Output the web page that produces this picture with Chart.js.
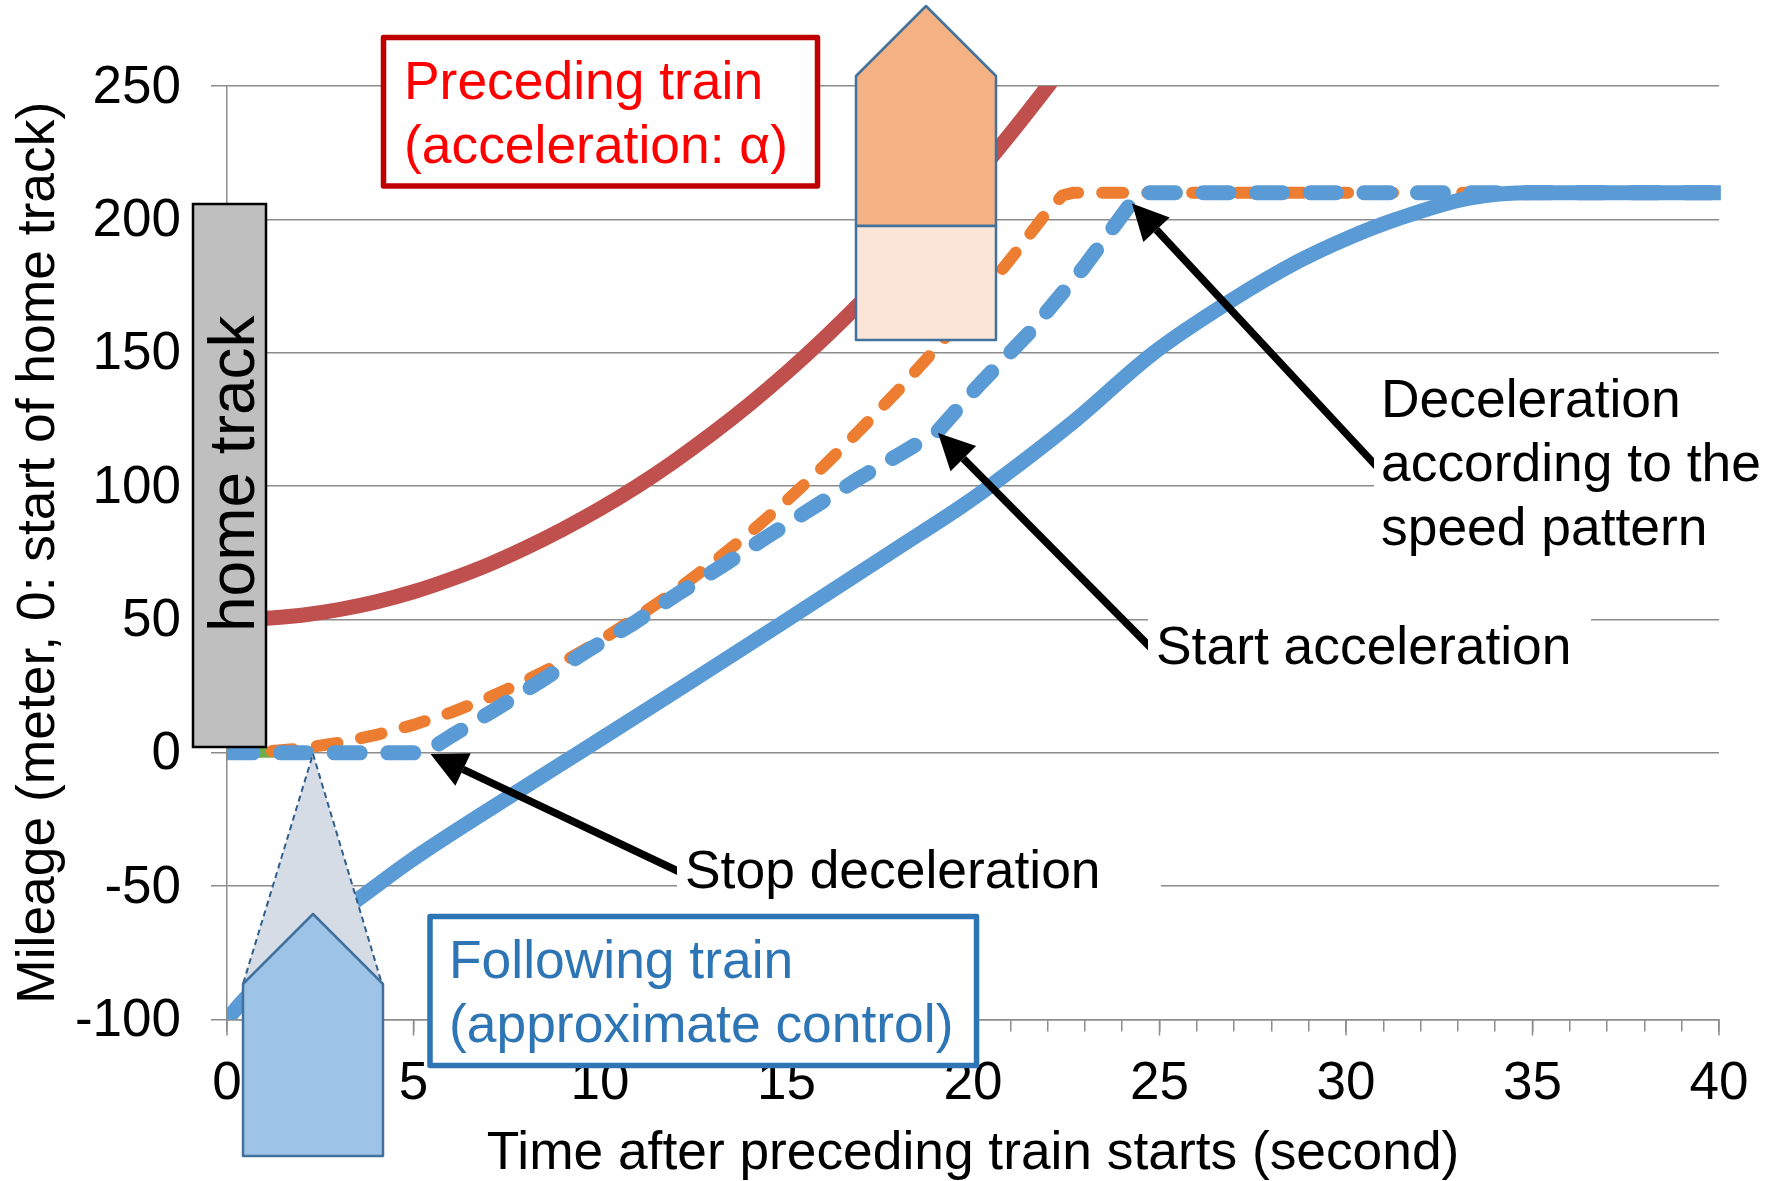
<!DOCTYPE html>
<html>
<head>
<meta charset="utf-8">
<title>Train mileage chart</title>
<script src="https://cdn.jsdelivr.net/npm/chart.js@4/dist/chart.umd.js"></script>
<style>
  html, body { margin: 0; padding: 0; background: #fff; }
  canvas { display: block; }
</style>
</head>
<body>
<canvas id="myChart" width="1778" height="1181"></canvas>
<script>
// values
const xTickLabels = [0, 5, 10, 15, 20, 25, 30, 35, 40];

const precedingTime = [0, 1, 2, 3, 4, 5, 6, 7, 8, 9, 10, 11, 12, 13, 14, 15, 16, 17, 18, 19, 20, 21, 22, 23];
const precedingMileage = [50, 50.4, 51.6, 53.7, 56.6, 60.4, 65.1, 70.5, 76.8, 83.8, 91.5, 100, 109.4, 119.6, 130.6, 142.5, 155.3, 169, 183.5, 198.8, 215, 232, 249.8, 268];

const patternTime = [0, 1, 2, 3, 4, 5, 6, 7, 8, 9, 10, 11, 12, 13, 14, 15, 16, 17, 18, 19, 20, 21, 22, 22.4, 22.7, 30, 40];
const patternMileage = [0, 0.4, 1.7, 3.8, 6.7, 10.5, 15.1, 20.6, 27, 34, 42, 51, 60.5, 71, 82.3, 94.5, 107.5, 121.5, 136, 151.5, 168, 185, 203, 209, 210, 210, 210];

const greenTime = [0, 2.3];
const greenMileage = [0, 0];

const targetTime = [0, 5.3, 6.03, 7.22, 8.42, 9.67, 10.9, 12.1, 13.3, 14.5, 15.74, 16.94, 18.14, 19.05, 20.1, 21.5, 22.96, 24.27, 24.5, 30, 40];
const targetMileage = [0, 0, 6.5, 16.5, 27, 38.4, 48.6, 59.7, 70.3, 81.2, 92.2, 102.9, 112.8, 120.5, 137, 157.4, 181.8, 206.7, 210, 210, 210];

const followingTime = [0, 0.43, 1, 2, 3, 3.5, 4.93, 7.7, 9.43, 12.2, 15.03, 18, 19.65, 20.43, 22.64, 24.85, 26.8, 28.74, 30.05, 31.34, 33.3, 35, 38, 40.05];
const followingMileage = [-100, -93, -85, -71, -60, -55, -40.4, -15.3, 0, 24.6, 50, 77, 92, 99.7, 123.5, 150, 168.5, 184.4, 193, 200, 208, 210, 210, 210];

const fontFamily = '"Liberation Sans", Arial, sans-serif';
const axisColor = "#8c8c8c";

function points(times, miles) {
  return times.map((t, i) => ({ x: t, y: miles[i] }));
}

function drawArrow(ctx, x1, y1, x2, y2) {
  const angle = Math.atan2(y2 - y1, x2 - x1);
  const headLen = 36;
  const headWide = 18;
  const baseX = x2 - headLen * Math.cos(angle);
  const baseY = y2 - headLen * Math.sin(angle);
  ctx.strokeStyle = "#000";
  ctx.fillStyle = "#000";
  ctx.lineWidth = 7.5;
  ctx.beginPath();
  ctx.moveTo(x1, y1);
  ctx.lineTo(baseX, baseY);
  ctx.stroke();
  ctx.beginPath();
  ctx.moveTo(x2, y2);
  ctx.lineTo(baseX - headWide * Math.sin(angle), baseY + headWide * Math.cos(angle));
  ctx.lineTo(baseX + headWide * Math.sin(angle), baseY - headWide * Math.cos(angle));
  ctx.closePath();
  ctx.fill();
}

function poly(ctx, pts, fill, stroke, width) {
  ctx.beginPath();
  pts.forEach((p, i) => (i ? ctx.lineTo(p[0], p[1]) : ctx.moveTo(p[0], p[1])));
  ctx.closePath();
  if (fill) {
    ctx.fillStyle = fill;
    ctx.fill();
  }
  if (stroke) {
    ctx.strokeStyle = stroke;
    ctx.lineWidth = width;
    ctx.stroke();
  }
}

function textBox(ctx, x, y, w, h, color, textColor, lines, textX, baselines) {
  ctx.fillStyle = "#fff";
  ctx.fillRect(x, y, w, h);
  ctx.strokeStyle = color;
  ctx.lineWidth = 5.5;
  ctx.lineJoin = "round";
  ctx.strokeRect(x, y, w, h);
  ctx.fillStyle = textColor;
  lines.forEach((line, i) => ctx.fillText(line, textX, baselines[i]));
}

// longer ticks every 5 seconds, y labels sit a little lower
const axisTweaks = {
  id: "axisTweaks",
  beforeDraw(chart) {
    chart.scales.y.getLabelItems(chart.chartArea).forEach((item) => {
      item.options.translation[1] += 2;
    });
  },
  beforeDatasetsDraw(chart) {
    const ctx = chart.ctx;
    const xScale = chart.scales.x;
    const bottom = chart.chartArea.bottom;
    ctx.save();
    ctx.strokeStyle = axisColor;
    ctx.lineWidth = 1.5;
    xTickLabels.forEach((v) => {
      const px = xScale.getPixelForValue(v);
      ctx.beginPath();
      ctx.moveTo(px, bottom);
      ctx.lineTo(px, bottom + 16);
      ctx.stroke();
    });
    ctx.restore();
  },
};

// boxes, trains, arrows and labels on top of the chart
const overlay = {
  id: "overlay",
  afterDatasetsDraw(chart) {
    const ctx = chart.ctx;
    ctx.save();
    ctx.textBaseline = "alphabetic";
    ctx.textAlign = "left";
    ctx.font = "53.4px " + fontFamily;

    drawArrow(ctx, 684, 874, 430.5, 754);
    drawArrow(ctx, 1154, 651, 938, 433);
    drawArrow(ctx, 1380, 470, 1132, 203.5);

    // white patches behind the labels, they also trim the arrow tails
    ctx.fillStyle = "#fff";
    ctx.fillRect(1374, 458, 404, 100);
    ctx.fillRect(1148, 610, 443, 62);
    ctx.fillRect(677, 840, 484, 62);

    ctx.fillStyle = "#000";
    ctx.fillText("Stop deceleration", 685, 888);
    ctx.fillText("Start acceleration", 1156, 664);
    ctx.fillText("Deceleration", 1381, 417);
    ctx.fillText("according to the", 1381, 481);
    ctx.fillText("speed pattern", 1381, 545);

    // home track block
    ctx.fillStyle = "#bfbfbf";
    ctx.fillRect(193, 204, 73, 543);
    ctx.strokeStyle = "#000";
    ctx.lineWidth = 2.5;
    ctx.strokeRect(193, 204, 73, 543);
    ctx.save();
    ctx.translate(254, 632);
    ctx.rotate(-Math.PI / 2);
    ctx.fillStyle = "#000";
    ctx.font = "64px " + fontFamily;
    ctx.fillText("home track", 0, 0);
    ctx.restore();

    textBox(ctx, 383.5, 37.5, 434, 148.5, "#c00000", "#ff0000",
      ["Preceding train", "(acceleration: α)"], 404, [99, 163]);
    textBox(ctx, 430, 916.5, 546.5, 149, "#2e75b6", "#2e75b6",
      ["Following train", "(approximate control)"], 449, [978, 1042]);

    // preceding train
    poly(ctx, [[856, 226], [856, 76], [926, 6], [996, 76], [996, 226]], "#f4b183", "#41719c", 2.5);
    poly(ctx, [[856, 226], [996, 226], [996, 340], [856, 340]], "#fbe5d6", "#41719c", 2.5);

    // following train with its sensor beam
    ctx.setLineDash([6, 4]);
    poly(ctx, [[313, 754], [382, 984], [243, 984]], "#d6dce5", "#2f5e8d", 2);
    ctx.setLineDash([]);
    poly(ctx, [[243, 984], [313, 914], [383, 984], [383, 1156], [243, 1156]], "#9dc3e6", "#41719c", 2.5);

    ctx.restore();
  },
};

const ctx = document.getElementById("myChart").getContext("2d");

// first dataset is painted on top
new Chart(ctx, {
  type: "line",
  data: {
    datasets: [
      {
        label: "Target",
        data: points(targetTime, targetMileage),
        borderColor: "#5b9bd5",
        borderWidth: 15,
        borderDash: [26, 27.6],
        borderCapStyle: "round",
        borderJoinStyle: "round",
        clip: { left: 0, top: 8, right: 4, bottom: 8 },
      },
      {
        label: "Following train",
        data: points(followingTime, followingMileage),
        borderColor: "#5b9bd5",
        borderWidth: 15,
        cubicInterpolationMode: "monotone",
        clip: { left: 0, top: 0, right: 4, bottom: 0 },
      },
      {
        label: "Speed pattern",
        data: points(patternTime, patternMileage),
        borderColor: "#ed7d31",
        borderWidth: 12,
        borderDash: [21, 24],
        borderCapStyle: "round",
        borderJoinStyle: "round",
        clip: { left: 0, top: 8, right: 4, bottom: 8 },
      },
      {
        label: "Start",
        data: points(greenTime, greenMileage),
        borderColor: "#70ad47",
        borderWidth: 10,
        clip: { left: 0, top: 8, right: 4, bottom: 8 },
      },
      {
        label: "Preceding train",
        data: points(precedingTime, precedingMileage),
        borderColor: "#c0504d",
        borderWidth: 15,
        cubicInterpolationMode: "monotone",
        clip: { left: 0, top: 0, right: 4, bottom: 0 },
      },
    ],
  },
  options: {
    responsive: false,
    animation: false,
    devicePixelRatio: 1,
    layout: { padding: { top: 86, right: 59, bottom: 0, left: 0 } },
    elements: { point: { radius: 0 } },
    plugins: {
      legend: { display: false },
      tooltip: { enabled: false },
    },
    scales: {
      x: {
        type: "linear",
        min: 0,
        max: 40,
        afterFit(scale) {
          scale.height = 161.4;
        },
        grid: { drawOnChartArea: false, color: axisColor, lineWidth: 1.5, tickLength: 12 },
        border: { color: axisColor, width: 1.5 },
        ticks: {
          stepSize: 1,
          autoSkip: false,
          maxRotation: 0,
          padding: 21,
          color: "#000",
          font: { family: fontFamily, size: 53 },
          callback(value) {
            return xTickLabels.includes(value) ? String(value) : "";
          },
        },
        title: {
          display: true,
          text: "Time after preceding train starts (second)",
          color: "#000",
          font: { family: fontFamily, size: 53.3 },
          padding: { top: 0, bottom: -5 },
        },
      },
      y: {
        min: -100,
        max: 250,
        afterFit(scale) {
          scale.width = 227;
        },
        grid: { color: axisColor, lineWidth: 1.5, tickLength: 16 },
        border: { color: axisColor, width: 1.5 },
        ticks: {
          stepSize: 50,
          padding: 30,
          color: "#000",
          font: { family: fontFamily, size: 53 },
        },
        title: {
          display: true,
          text: "Mileage (meter, 0: start of home track)",
          color: "#000",
          font: { family: fontFamily, size: 53.4 },
          padding: { top: 7, bottom: 0 },
        },
      },
    },
  },
  plugins: [axisTweaks, overlay],
});
</script>
</body>
</html>
